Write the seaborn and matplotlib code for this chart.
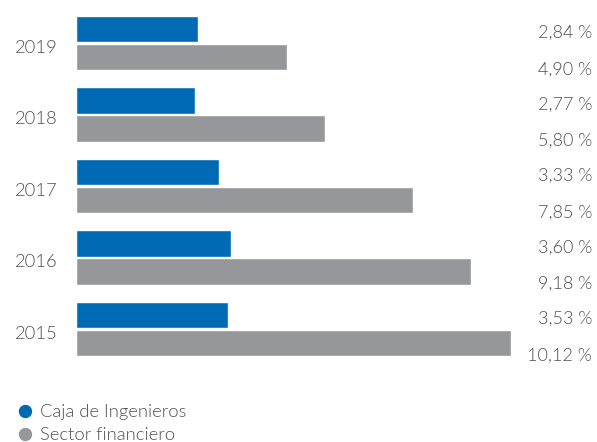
import matplotlib
matplotlib.use("Agg")
import matplotlib.pyplot as plt
from matplotlib.lines import Line2D
from matplotlib.transforms import ScaledTranslation, blended_transform_factory
import seaborn as sns
import pandas as pd

years = ["2019", "2018", "2017", "2016", "2015"]
caja = [2.84, 2.77, 3.33, 3.60, 3.53]
sector = [4.90, 5.80, 7.85, 9.18, 10.12]
series_names = ["Caja de Ingenieros", "Sector financiero"]
colors = ["#006AB4", "#96979B"]

df = pd.DataFrame({
    "year": years * 2,
    "value": caja + sector,
    "series": [series_names[0]] * len(years) + [series_names[1]] * len(years),
})

sns.set_theme(style="white")
plt.rcParams["font.family"] = ["Lato", "DejaVu Sans"]
text_color = "#505050"
LIGHT = 300

fig = plt.figure(figsize=(5.97, 4.42), dpi=100)
ax = fig.add_axes([0.1273, 0.1748, 0.7286, 0.8088])

sns.barplot(data=df, y="year", x="value", hue="series", order=years,
            hue_order=series_names, palette=colors, orient="h",
            width=0.79, gap=0.07, saturation=1, ax=ax, legend=False)

ax.set_xlim(0, max(sector))
ax.set_ylim(len(years) - 0.5, -0.5)
ax.set_xlabel("")
ax.set_ylabel("")
ax.set_xticks([])
sns.despine(ax=ax, left=True, bottom=True)
ax.tick_params(axis="y", length=0, pad=13)
shift = ScaledTranslation(0, -3.5 / 100, fig.dpi_scale_trans)
for lab in ax.get_yticklabels():
    lab.set_fontsize(13.3)
    lab.set_fontweight(LIGHT)
    lab.set_color(text_color)
    lab.set_transform(lab.get_transform() + shift)


def fmt(v):
    return f"{v:.2f}".replace(".", ",") + " %"


trans = blended_transform_factory(fig.transFigure, ax.transData)
for i, (c, s) in enumerate(zip(caja, sector)):
    ax.text(0.9916, i - 0.14, fmt(c), transform=trans, ha="right", va="center",
            fontsize=13, fontweight=LIGHT, color=text_color)
    ax.text(0.9916, i + 0.37, fmt(s), transform=trans, ha="right", va="center",
            fontsize=13, fontweight=LIGHT, color=text_color)

handles = [Line2D([], [], marker="o", linestyle="", markersize=8.6,
                  markerfacecolor=col, markeredgecolor=col) for col in colors]
fig.legend(handles, series_names, loc="center left",
           bbox_to_anchor=(0.030, 0.0418), frameon=False,
           handlelength=0.8, handletextpad=0.4, labelspacing=0.38,
           borderaxespad=0, borderpad=0, labelcolor=text_color,
           prop={"weight": LIGHT, "size": 13.2})

fig.savefig("out.png", dpi=100)
